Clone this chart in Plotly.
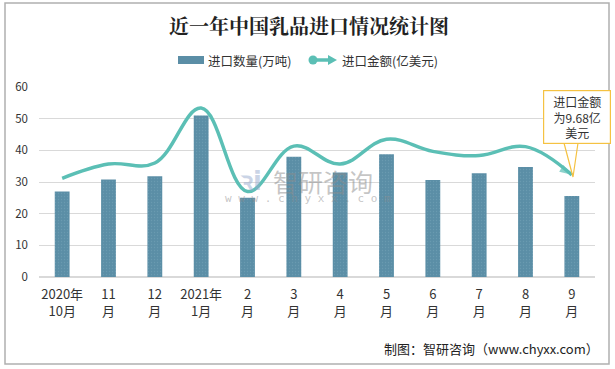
import plotly.graph_objects as go

categories = ["2020年<br>10月", "11<br>月", "12<br>月", "2021年<br>1月", "2<br>月", "3<br>月",
              "4<br>月", "5<br>月", "6<br>月", "7<br>月", "8<br>月", "9<br>月"]
volume = [27, 30.8, 31.8, 51, 25, 38, 33, 38.8, 30.6, 32.8, 34.7, 25.6]      # 万吨
value = [9.35, 10.7, 10.8, 16.0, 8.1, 12.4, 10.7, 13.05, 11.9, 11.5, 12.35, 9.68]  # 亿美元

BAR_C = "#5b8ea6"
LINE_C = "#5bbfb5"
CALLOUT_C = "#f5c242"

x = list(range(len(categories)))
n = len(x)

fig = go.Figure()
fig.add_trace(go.Bar(
    x=x, y=volume, name="进口数量(万吨)", width=0.32, showlegend=False,
    marker=dict(color=BAR_C, line=dict(width=0),
                pattern=dict(shape=".", size=3, solidity=0.15, fgcolor="#7aa6ba")),
))
sizes = [11] + [0] * (n - 2) + [13]
symbols = ["circle"] * (n - 1) + ["arrow"]
fig.add_trace(go.Scatter(
    x=x, y=value, name="进口金额(亿美元)", yaxis="y2", mode="lines+markers", showlegend=False,
    line=dict(color=LINE_C, width=3.5, shape="spline", smoothing=1.1),
    marker=dict(size=sizes, symbol=symbols, angleref="previous", color=LINE_C,
                line=dict(width=0)),
))

L, R, T, B = 39, 20, 87, 92
pw, ph = 615 - L - R, 369 - T - B
def px(xp):
    return (xp - L) / pw
def py(yp):
    return (369 - B - yp) / ph

shapes = [
    dict(type="rect", xref="paper", yref="paper",
         x0=px(5), x1=px(609), y0=py(364), y1=py(3),
         line=dict(color="#b0b0b0", width=1.5), fillcolor="rgba(0,0,0,0)", layer="below"),
    # legend: bar swatch
    dict(type="rect", xref="paper", yref="paper", x0=px(178), x1=px(204), y0=py(64), y1=py(56),
         fillcolor=BAR_C, line=dict(width=0)),
    # legend: line swatch
    dict(type="line", xref="paper", yref="paper", x0=px(313), x1=px(330), y0=py(60), y1=py(60),
         line=dict(color=LINE_C, width=3.5)),
    dict(type="circle", xref="paper", yref="paper", x0=px(308.5), x1=px(317.5), y0=py(64.5), y1=py(55.5),
         fillcolor=LINE_C, line=dict(width=0)),
    dict(type="path", xref="paper", yref="paper",
         path=f"M {px(328)} {py(55)} L {px(337)} {py(60)} L {px(328)} {py(65)} Z",
         fillcolor=LINE_C, line=dict(width=0)),
    # callout pointer
    dict(type="path", xref="paper", yref="paper",
         path=f"M {px(564)} {py(143)} L {px(573)} {py(177)} L {px(578)} {py(143)}",
         fillcolor="rgba(0,0,0,0)", line=dict(color=CALLOUT_C, width=1.2)),
    dict(type="line", xref="paper", yref="paper", x0=px(565), x1=px(577), y0=py(143), y1=py(143),
         line=dict(color="white", width=2)),
]

annotations = [
    dict(text="<b>近一年中国乳品进口情况统计图</b>", xref="paper", yref="paper",
         x=px(309), y=py(25), xanchor="center", yanchor="middle", showarrow=False,
         font=dict(size=20, color="#222", family="Noto Serif CJK SC, Noto Sans CJK SC")),
    dict(text="进口数量(万吨)", xref="paper", yref="paper", x=px(206), y=py(60),
         xanchor="left", yanchor="middle", showarrow=False,
         font=dict(size=12.5, color="#333", family="Noto Sans CJK SC")),
    dict(text="进口金额(亿美元)", xref="paper", yref="paper", x=px(340), y=py(60),
         xanchor="left", yanchor="middle", showarrow=False,
         font=dict(size=12.5, color="#333", family="Noto Sans CJK SC")),
    dict(text="制图：智研咨询（www.chyxx.com）", xref="paper", yref="paper",
         x=px(601), y=py(348), xanchor="right", yanchor="middle", showarrow=False,
         font=dict(size=13, color="#222", family="Noto Sans CJK SC")),
    dict(text="智研咨询", xref="paper", yref="paper", x=px(323), y=py(181),
         xanchor="center", yanchor="middle", showarrow=False,
         font=dict(size=25, color="rgba(140,140,140,0.5)", family="Noto Sans CJK SC")),
    dict(text="w w w . c h y x x . c o m", xref="paper", yref="paper", x=px(308), y=py(198),
         xanchor="center", yanchor="middle",
         showarrow=False, font=dict(size=11, color="rgba(140,140,140,0.5)", family="DejaVu Sans Mono")),
    dict(text="<b>ꝛi</b>", xref="paper", yref="paper", x=px(251), y=py(181),
         xanchor="center", yanchor="middle", showarrow=False,
         font=dict(size=26, color="rgba(150,170,205,0.5)", family="DejaVu Sans")),
    dict(text="进口金额<br>为9.68亿<br>美元", xref="paper", yref="paper", x=px(577), y=py(117),
         xanchor="center", yanchor="middle", showarrow=False, width=60, height=46,
         bordercolor=CALLOUT_C, borderwidth=1.2, borderpad=3, bgcolor="white",
         font=dict(size=12, color="#333", family="Noto Sans CJK SC"), align="center"),
]

fig.update_layout(
    width=615, height=369,
    margin=dict(l=L, r=R, t=T, b=B),
    paper_bgcolor="white", plot_bgcolor="white",
    font=dict(family="Noto Sans CJK SC", size=12, color="#333"),
    showlegend=False,
    xaxis=dict(tickmode="array", tickvals=x, ticktext=categories, range=[-0.5, n - 0.5],
               showgrid=False, zeroline=False, showline=False, ticks="",
               ticklabelstandoff=8,
               tickfont=dict(size=13, color="#333")),
    yaxis=dict(range=[0, 60], dtick=10, showgrid=True, gridcolor="#d9d9d9", gridwidth=1,
               zeroline=True, zerolinecolor="#d9d9d9", showline=False, ticks="",
               ticklabelstandoff=10,
               tickfont=dict(size=11.5, color="#333")),
    yaxis2=dict(range=[0, 18], overlaying="y", side="right", visible=False),
    shapes=shapes, annotations=annotations, bargap=0.5,
)

fig.write_html("out.html", config={"displayModeBar": False},
               post_script="document.body.style.margin='0';")
